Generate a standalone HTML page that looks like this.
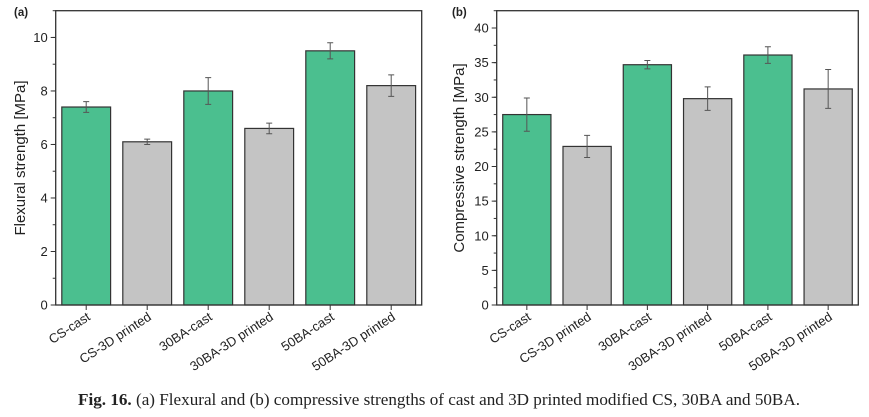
<!DOCTYPE html>
<html><head><meta charset="utf-8"><style>
body{margin:0;background:#fff;width:869px;height:412px;overflow:hidden}
svg{font-family:"Liberation Sans",sans-serif}
</style></head><body>
<svg width="869" height="412" id="fig">
<text x="439" y="405" text-anchor="middle" font-family="Liberation Serif" font-size="16.5" fill="#222" textLength="722" lengthAdjust="spacingAndGlyphs"><tspan font-weight="bold">Fig. 16.</tspan> (a) Flexural and (b) compressive strengths of cast and 3D printed modified CS, 30BA and 50BA.</text>
</svg>
<script>
const categories=["CS-cast","CS-3D printed","30BA-cast","30BA-3D printed","50BA-cast","50BA-3D printed"];
const flexValues=[7.4,6.1,8.0,6.6,9.5,8.2];
const flexErrors=[0.2,0.1,0.5,0.2,0.3,0.4];
const compValues=[27.5,22.9,34.7,29.8,36.1,31.2];
const compErrors=[2.4,1.6,0.6,1.7,1.2,2.8];
const flexTicks=[0,2,4,6,8,10];
const compTicks=[0,5,10,15,20,25,30,35,40];
const NS="http://www.w3.org/2000/svg";
const svg=document.getElementById('fig');
function el(t,a,p){const e=document.createElementNS(NS,t);for(const k in a)e.setAttribute(k,a[k]);(p||svg).appendChild(e);return e;}
function panel(opt){
 const g=el('g',{});
 
 
 const L=opt.x0,R=opt.x1,T=10.7,B=305;
 const y=v=>B-(v/opt.ymax)*(B-T);
 const bw=(R-L)/categories.length;
 const x=i=>L+bw*(i+0.5);
 opt.vals.forEach((v,i)=>{
  const r=el('rect',{x:x(i)-bw*0.4,y:y(v),width:bw*0.8,height:B-y(v),fill:i%2?'#c4c4c4':'#4bbf8f',stroke:'#333','stroke-width':1.2},g);
  
  
  const e=opt.errs[i],cx=x(i);
  const eb=el('path',{d:`M${cx},${y(v+e)}V${y(v-e)}M${cx-3},${y(v+e)}H${cx+3}M${cx-3},${y(v-e)}H${cx+3}`,stroke:'#555','stroke-width':1,fill:'none'},g);
  
  
  el('line',{x1:cx,x2:cx,y1:B,y2:B+5,stroke:'#333'},g);
  const t=el('text',{x:cx+5,y:B+14,'text-anchor':'end','font-size':13,fill:'#222',transform:`rotate(-33 ${cx+5} ${B+14})`},g);
  t.textContent=categories[i];
  
  
 });
 for(let v=0;v<=opt.ymax;v+=opt.minor){el('line',{x1:L-3,x2:L,y1:y(v),y2:y(v),stroke:'#333'},g);}
 opt.ticks.forEach(v=>{
  el('line',{x1:L-5,x2:L,y1:y(v),y2:y(v),stroke:'#333'},g);
  const t=el('text',{x:L-8,y:y(v)+4.5,'text-anchor':'end','font-size':13,fill:'#222'},g);
  t.textContent=v;
  
  
 });
 const f=el('rect',{x:L,y:T,width:R-L,height:B-T,fill:'none',stroke:'#333','stroke-width':1.3},g);
 
 
 const yt=el('text',{x:opt.titleX,y:158,'text-anchor':'middle','font-size':15,fill:'#222',transform:`rotate(-90 ${opt.titleX} 158)`},g);
 yt.textContent=opt.title;
 
 
 const pl=el('text',{x:opt.labelX,y:16,'font-size':11.5,'font-weight':'bold',fill:'#222'},g);
 pl.textContent=opt.label;
 
 
}
panel({name:'flexural-chart',x0:55.7,x1:421.7,ymax:11,vals:flexValues,errs:flexErrors,ticks:flexTicks,minor:1,title:'Flexural strength [MPa]',titleX:25,label:'(a)',labelX:14});
panel({name:'compressive-chart',x0:496.7,x1:858.3,ymax:42.5,vals:compValues,errs:compErrors,ticks:compTicks,minor:2.5,title:'Compressive strength [MPa]',titleX:464,label:'(b)',labelX:452});
</script>
</body></html>
